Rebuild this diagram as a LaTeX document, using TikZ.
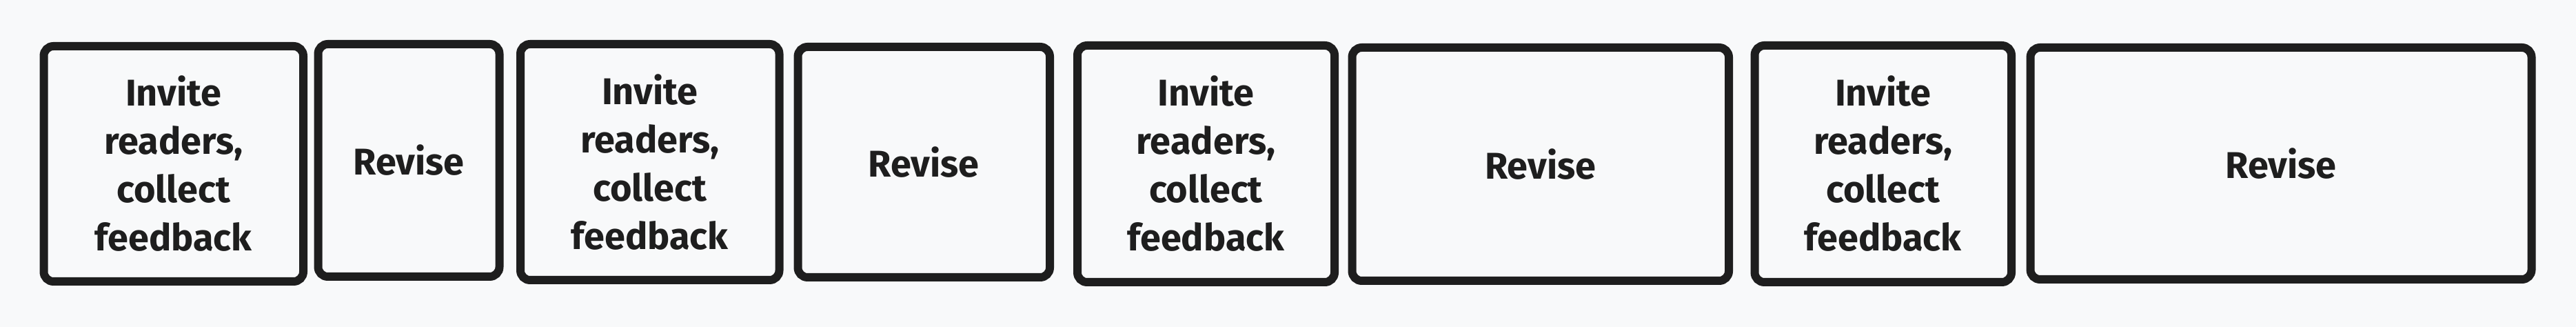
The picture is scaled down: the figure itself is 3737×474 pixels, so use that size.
\documentclass[tikz,border=0pt]{standalone}
\usepackage{fontspec}
\setmainfont{Fira Sans}
\definecolor{bgc}{HTML}{F8F9FA}
\definecolor{ink}{HTML}{1E1E1E}
\tikzset{
  card/.style={draw=ink, fill=bgc, line width=6pt, rounded corners=7pt,
    rectangle, inner sep=0pt, outer sep=0pt, text=ink, align=center,
    font=\fontsize{27}{35}\selectfont\bfseries},
}
\begin{document}
\begin{tikzpicture}[x=0.5pt,y=-0.5pt]
\fill[bgc] (0,0) rectangle (3737,474);
\useasboundingbox (0,0) rectangle (3737,474);
\node[card, minimum width=188.25pt, minimum height=170.5pt] (b1) at (251.75,237.5) {Invite\\readers,\\collect\\feedback};
\node[card, minimum width=131.5pt, minimum height=168.5pt] (b2) at (593,232.5) {Revise};
\node[card, minimum width=187.75pt, minimum height=171pt] (b3) at (942.75,235) {Invite\\readers,\\collect\\feedback};
\node[card, minimum width=182.75pt, minimum height=167pt] (b4) at (1340.25,235) {Revise};
\node[card, minimum width=186.5pt, minimum height=171.5pt] (b5) at (1749.5,237.5) {Invite\\readers,\\collect\\feedback};
\node[card, minimum width=273.25pt, minimum height=169pt] (b6) at (2234.75,238) {Revise};
\node[card, minimum width=186.25pt, minimum height=171.5pt] (b7) at (2731.75,237.5) {Invite\\readers,\\collect\\feedback};
\node[card, minimum width=363.5pt, minimum height=168pt] (b8) at (3309,237) {Revise};
\end{tikzpicture}
\end{document}
